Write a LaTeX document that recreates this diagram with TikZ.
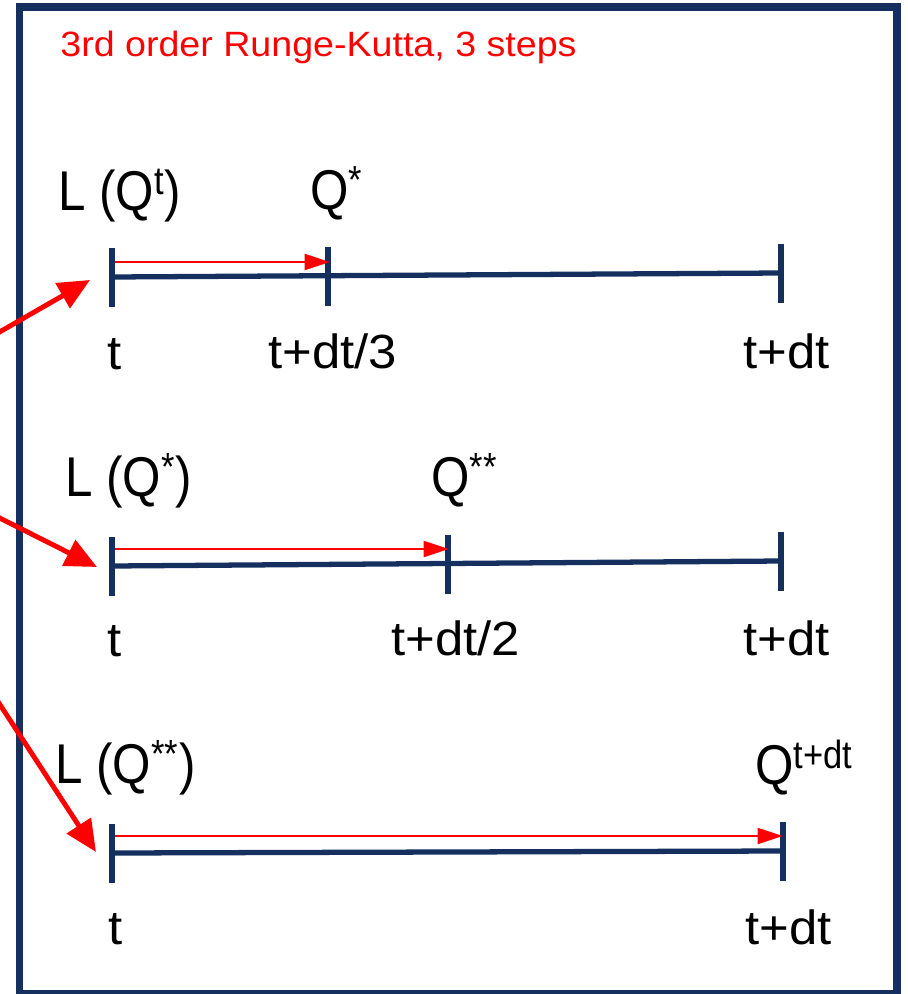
\documentclass[tikz,border=0pt]{standalone}
\usepackage{fontspec}
\setmainfont{Liberation Sans}
\newfontfamily\ttlfont[FakeStretch=1.07]{Liberation Sans}
\newfontfamily\qfont[FakeStretch=0.88]{Liberation Sans}
\newfontfamily\lblfont[FakeStretch=1.06]{Liberation Sans}
\usetikzlibrary{arrows.meta}
\definecolor{rknavy}{HTML}{15305F}
\definecolor{rkred}{HTML}{FF0000}

\begin{document}
\begin{tikzpicture}[x=0.02cm, y=-0.02cm,
    axis/.style={draw=rknavy, line width=3pt},
    stagearrow/.style={draw=rkred, line width=1.6pt, -{Triangle[length=14.5pt, width=9pt]}},
    feedarrow/.style={draw=rkred, line width=2.8pt, -{Triangle[length=18pt, width=16pt]}},
    qlabel/.style={anchor=base west, inner sep=0pt, font=\qfont\fontsize{31.9}{38}\selectfont},
    tlabel/.style={anchor=base west, inner sep=0pt, font=\lblfont\fontsize{27.3}{33}\selectfont}]
  \useasboundingbox (0,0) rectangle (908,994);
  \draw[draw=rknavy, line width=4.3pt] (19.5,7) rectangle (897,994);

  \node[anchor=base west, inner sep=0pt, text=rkred,
        font=\ttlfont\fontsize{20}{24}\selectfont] (title) at (60,56)
        {3rd order Runge-Kutta, 3 steps};

  % stage 1
  \coordinate (s1) at (112,277);
  \coordinate (m1) at (328,276);
  \coordinate (e1) at (781,273);
  \draw[axis] (s1) -- (e1);
  \foreach \p in {s1,m1,e1}
    \draw[axis] (\p) ++(0,-29) -- ++(0,59);
  \coordinate (a1) at (115,262);
  \coordinate (b1) at (330,262);
  \draw[stagearrow] (a1) -- (b1);
  \node[qlabel] (lq1) at (58,210) {L (Q\textsuperscript{t})};
  \node[qlabel] (q1) at (310,209) {Q\textsuperscript{*}};
  \node[tlabel] (t1) at (107,369) {t};
  \node[tlabel] (h1) at (268,368) {t+dt/3};
  \node[tlabel] (d1) at (743,368) {t+dt};

  % stage 2
  \coordinate (s2) at (112,566);
  \coordinate (m2) at (448,564);
  \coordinate (e2) at (781,561);
  \draw[axis] (s2) -- (e2);
  \foreach \p in {s2,m2,e2}
    \draw[axis] (\p) ++(0,-29) -- ++(0,59);
  \coordinate (a2) at (115,549);
  \coordinate (b2) at (449,549);
  \draw[stagearrow] (a2) -- (b2);
  \node[qlabel] (lq2) at (65,496) {L (Q\textsuperscript{*})};
  \node[qlabel] (q2) at (431,496) {Q\textsuperscript{**}};
  \node[tlabel] (t2) at (107,656) {t};
  \node[tlabel] (h2) at (391,655) {t+dt/2};
  \node[tlabel] (d2) at (743,655) {t+dt};

  % stage 3
  \coordinate (s3) at (112,853);
  \coordinate (e3) at (783,851);
  \draw[axis] (s3) -- (e3);
  \foreach \p in {s3,e3}
    \draw[axis] (\p) ++(0,-29) -- ++(0,59);
  \coordinate (a3) at (115,836);
  \coordinate (b3) at (783,836);
  \draw[stagearrow] (a3) -- (b3);
  \node[qlabel] (lq3) at (55,783) {L (Q\textsuperscript{**})};
  \node[qlabel] (q3) at (755,784) {Q\textsuperscript{t+dt}};
  \node[tlabel] (t3) at (108,944) {t};
  \node[tlabel] (d3) at (745,944) {t+dt};

  % arrows coming in from the left
  \coordinate (f1) at (-30,349);
  \coordinate (g1) at (90,280);
  \coordinate (f2) at (-30,503);
  \coordinate (g2) at (97,567);
  \coordinate (f3) at (-20,674);
  \coordinate (g3) at (96,852);
  \draw[feedarrow] (f1) -- (g1);
  \draw[feedarrow] (f2) -- (g2);
  \draw[feedarrow] (f3) -- (g3);
\end{tikzpicture}
\end{document}
